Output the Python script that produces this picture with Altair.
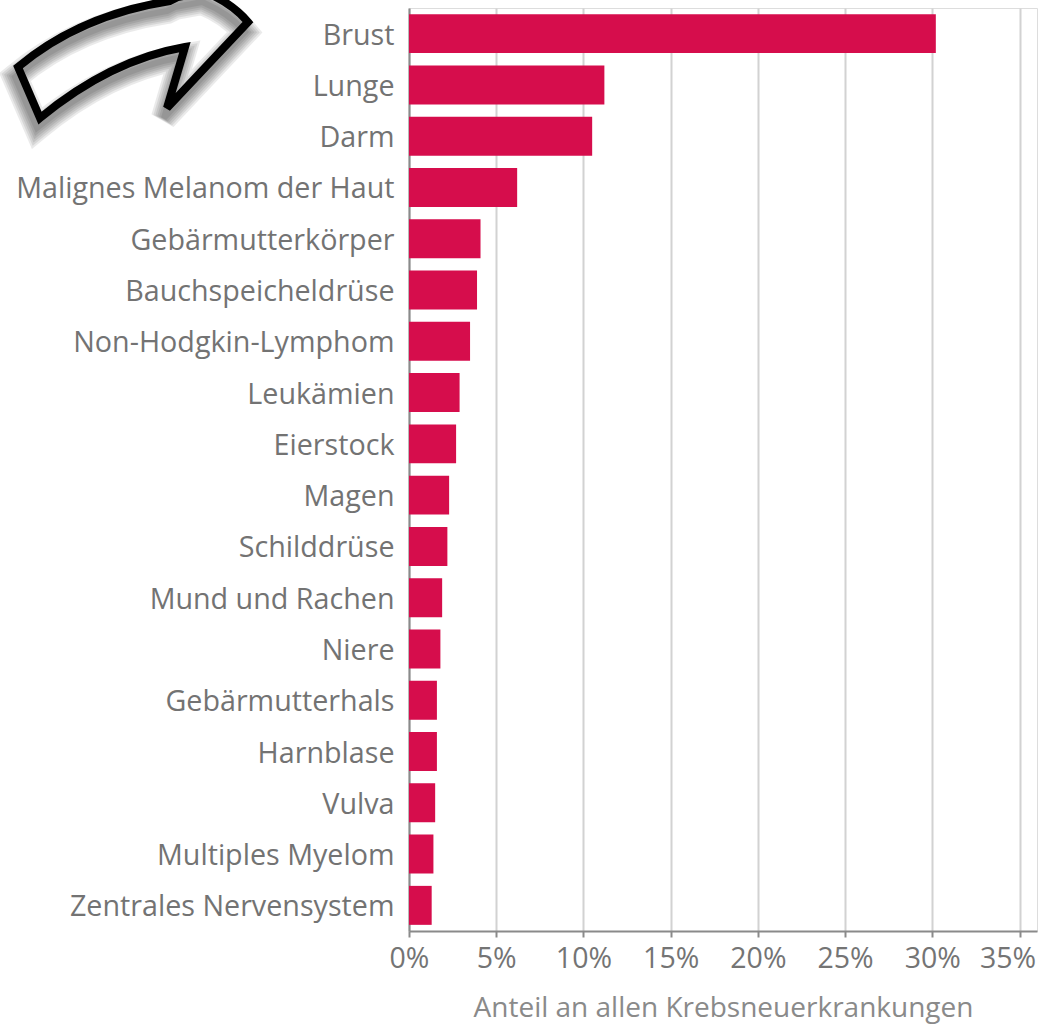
import altair as alt
import pandas as pd

sites = ["Brust", "Lunge", "Darm", "Malignes Melanom der Haut", "Gebärmutterkörper",
         "Bauchspeicheldrüse", "Non-Hodgkin-Lymphom", "Leukämien", "Eierstock", "Magen",
         "Schilddrüse", "Mund und Rachen", "Niere", "Gebärmutterhals", "Harnblase",
         "Vulva", "Multiples Myelom", "Zentrales Nervensystem"]
shares = [30.2, 11.2, 10.5, 6.2, 4.1, 3.9, 3.5, 2.9, 2.7, 2.3, 2.2, 1.9, 1.8, 1.6, 1.6, 1.5, 1.4, 1.3]
x_ticks = [0, 5, 10, 15, 20, 25, 30, 35]

FONT = "Open Sans"
df = pd.DataFrame({"site": sites, "share": shares})

bars = alt.Chart(df).mark_bar(color="#d60d4c", cornerRadius=0).encode(
    x=alt.X("share:Q",
            scale=alt.Scale(domain=[0, 36], nice=False, zero=True),
            axis=alt.Axis(values=x_ticks, title="Anteil an allen Krebsneuerkrankungen",
                          labelExpr="datum.value + '%'", labelFlush=False,
                          labelOffset=alt.expr("datum.value == 35 ? -12 : 0"),
                          labelFontSize=28.5, labelColor="#747474", labelFont=FONT,
                          labelPadding=7, titleFont=FONT, titleFontSize=28,
                          titleFontWeight="normal", titleColor="#8a8a8a", titlePadding=22,
                          grid=True, gridColor="#d2d2d2", gridWidth=2,
                          domainColor="#8a8a8a", domainWidth=2, tickColor="#8a8a8a",
                          tickWidth=2, tickSize=6)),
    y=alt.Y("site:N", sort=sites, title=None,
            scale=alt.Scale(paddingInner=0.24, paddingOuter=0.12),
            axis=alt.Axis(labelFontSize=28.7, labelColor="#737373", labelFont=FONT,
                          labelPadding=15, labelLimit=420, labelOffset=2, ticks=False,
                          grid=False, domainColor="#8a8a8a", domainWidth=2)),
)

# Outline of the decorative arrow, in units of 100 px around its anchor
ARROW = ("M-1.15,0.17 Q-0.53,-0.35 0.37,-0.49 L0.45,-0.53 L0.72,-0.58 "
         "Q0.99,-0.47 1.15,-0.28 L0.34,0.58 L0.52,-0.03 Q-0.23,0.10 -0.93,0.68 Z")
anchor = pd.DataFrame({"a": [0]})


def arrow_layer(dx, dy, width, color, opacity):
    return alt.Chart(anchor).mark_point(
        shape=ARROW, size=40000, filled=False, stroke=color,
        strokeWidth=width, opacity=opacity, strokeJoin="miter",
    ).encode(x=alt.value(133 - 409 + dx), y=alt.value(50 - 8 + dy))


halo = [arrow_layer(-3, 10, w, "#000000", 0.08) for w in (26, 22, 18, 14, 10, 6)]
outline = arrow_layer(0, 0, 8, "#000000", 1)

chart = alt.layer(bars, *halo, outline).properties(
    width=628, height=923,
    padding={"left": 409, "top": 8, "right": 3, "bottom": 96},
    autosize=alt.AutoSizeParams(type="none"),
).configure_view(stroke=None).configure(background="#ffffff")

chart.save("out.html", embed_options={"renderer": "svg", "actions": False})
